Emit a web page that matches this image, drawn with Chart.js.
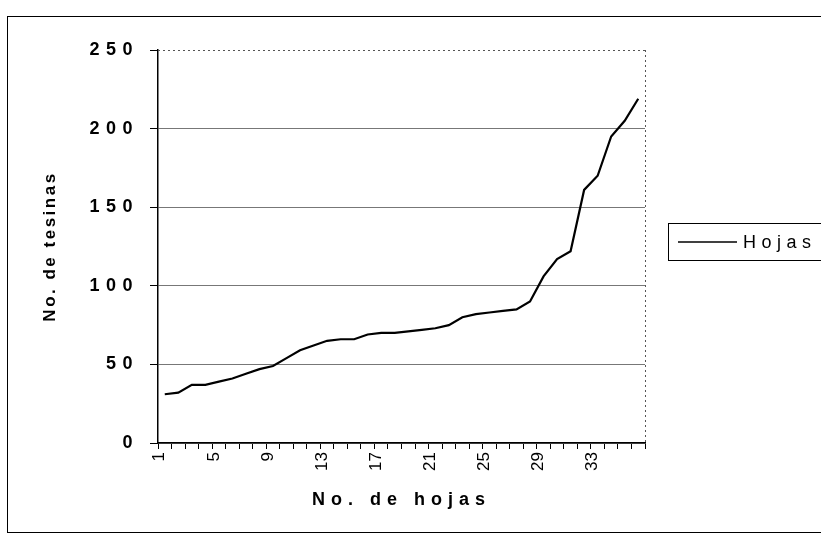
<!DOCTYPE html>
<html>
<head>
<meta charset="utf-8">
<script src="https://cdn.jsdelivr.net/npm/chart.js@4/dist/chart.umd.min.js"></script>
<style>
  body { margin: 0; background: #fff; }
  #wrap { position: relative; width: 821px; height: 536px; }
</style>
</head>
<body>
<div id="wrap"><canvas id="chart" width="821" height="536"></canvas></div>
<script>
const hojas = ['1','2','3','4','5','6','7','8','9','10','11','12','13','14','15','16','17','18',
               '19','20','21','22','23','24','25','26','27','28','29','30','31','32','33','34','35','36'];
const tesinas = [31, 32, 37, 37, 39, 41, 44, 47, 49, 54, 59, 62, 65, 66, 66, 69, 70, 70,
                 71, 72, 73, 75, 80, 82, 83, 84, 85, 90, 106, 117, 122, 161, 170, 195, 205, 219];
const yTicks = [0, 50, 100, 150, 200, 250];
const serieLabel = 'Hojas';

Chart.defaults.font.family = 'Liberation Sans';
Chart.defaults.color = '#000';

// the old excel chart has wide letter spacing, canvas can do it
function spaced(ctx, px, fn) {
    const old = ctx.letterSpacing;
    ctx.letterSpacing = px || '0px';
    fn();
    ctx.letterSpacing = old;
}

class SpacedCategoryScale extends Chart.CategoryScale {
    static id = 'spacedCategory';
    drawTitle() { spaced(this.ctx, this.options.title.spacing, () => super.drawTitle()); }
    drawLabels(area) { spaced(this.ctx, this.options.ticks.spacing, () => super.drawLabels(area)); }
}

class SpacedLinearScale extends Chart.LinearScale {
    static id = 'spacedLinear';
    drawTitle() { spaced(this.ctx, this.options.title.spacing, () => super.drawTitle()); }
    drawLabels(area) { spaced(this.ctx, this.options.ticks.spacing, () => super.drawLabels(area)); }
}

Chart.register(SpacedCategoryScale, SpacedLinearScale);

const marco = {
    id: 'marco',
    afterDraw(chart) {
        const ctx = chart.ctx;
        const a = chart.chartArea;
        ctx.save();
        // outer frame of the chart
        ctx.strokeStyle = '#000';
        ctx.lineWidth = 1;
        ctx.strokeRect(7.5, 16.5, 830, 516);

        // dotted top and right side of the plot area
        ctx.strokeStyle = '#555';
        ctx.setLineDash([2, 3]);
        ctx.beginPath();
        ctx.moveTo(a.left, a.top + 0.5);
        ctx.lineTo(a.right, a.top + 0.5);
        ctx.moveTo(a.right + 0.5, a.top);
        ctx.lineTo(a.right + 0.5, a.bottom);
        ctx.stroke();
        ctx.setLineDash([]);

        // legend box
        ctx.strokeStyle = '#000';
        ctx.strokeRect(668.5, 223.5, 170, 37);
        ctx.lineWidth = 1.5;
        ctx.beginPath();
        ctx.moveTo(678, 242);
        ctx.lineTo(737, 242);
        ctx.stroke();
        ctx.fillStyle = '#000';
        ctx.font = '18px "Liberation Sans"';
        ctx.textBaseline = 'middle';
        ctx.letterSpacing = '5.5px';
        ctx.fillText(serieLabel, 743, 243);
        ctx.restore();
    }
};

const ctx = document.getElementById('chart').getContext('2d');
const chart = new Chart(ctx, {
    type: 'line',
    data: {
        labels: hojas,
        datasets: [
            {
                label: serieLabel,
                data: tesinas,
                borderColor: '#000',
                borderWidth: 2.2,
                pointRadius: 0,
                tension: 0,
                fill: false
            }
        ]
    },
    options: {
        responsive: false,
        animation: false,
        layout: {
            padding: { top: 50, right: 176, bottom: 0, left: 0 }
        },
        plugins: {
            legend: { display: false },
            tooltip: { enabled: false }
        },
        scales: {
            x: {
                type: 'spacedCategory',
                offset: true,
                afterFit: (scale) => { scale.height = 93; },
                grid: {
                    display: true,
                    offset: true,
                    drawOnChartArea: false,
                    drawTicks: true,
                    tickLength: 6,
                    tickColor: '#000'
                },
                border: { color: '#000', width: 1.5 },
                ticks: {
                    autoSkip: false,
                    maxRotation: 90,
                    minRotation: 90,
                    padding: 3,
                    labelOffset: -5,
                    font: { size: 17 },
                    callback: function(val, index) {
                        return index % 4 === 0 ? this.getLabelForValue(val) : '';
                    }
                },
                title: {
                    display: true,
                    text: 'No. de hojas',
                    spacing: '6px',
                    font: { size: 18, weight: 'bold' },
                    padding: { top: 0, bottom: 25 }
                }
            },
            y: {
                type: 'spacedLinear',
                min: 0,
                max: 250,
                afterFit: (scale) => { scale.width = 158; },
                afterBuildTicks: (scale) => {
                    scale.ticks = yTicks.map(v => ({ value: v }));
                },
                grid: {
                    color: (c) => c.tick && c.tick.value === 250 ? 'rgba(0,0,0,0)' : '#777',
                    lineWidth: 1,
                    tickLength: 8,
                    tickColor: '#000'
                },
                border: { color: '#000', width: 1.5 },
                ticks: {
                    padding: 11,
                    spacing: '6.5px',
                    font: { size: 18, weight: 'bold' }
                },
                title: {
                    display: true,
                    text: 'No. de tesinas',
                    spacing: '2.5px',
                    font: { size: 17, weight: 'bold' },
                    padding: { top: 40, bottom: 0 }
                }
            }
        }
    },
    plugins: [marco]
});
</script>
</body>
</html>
